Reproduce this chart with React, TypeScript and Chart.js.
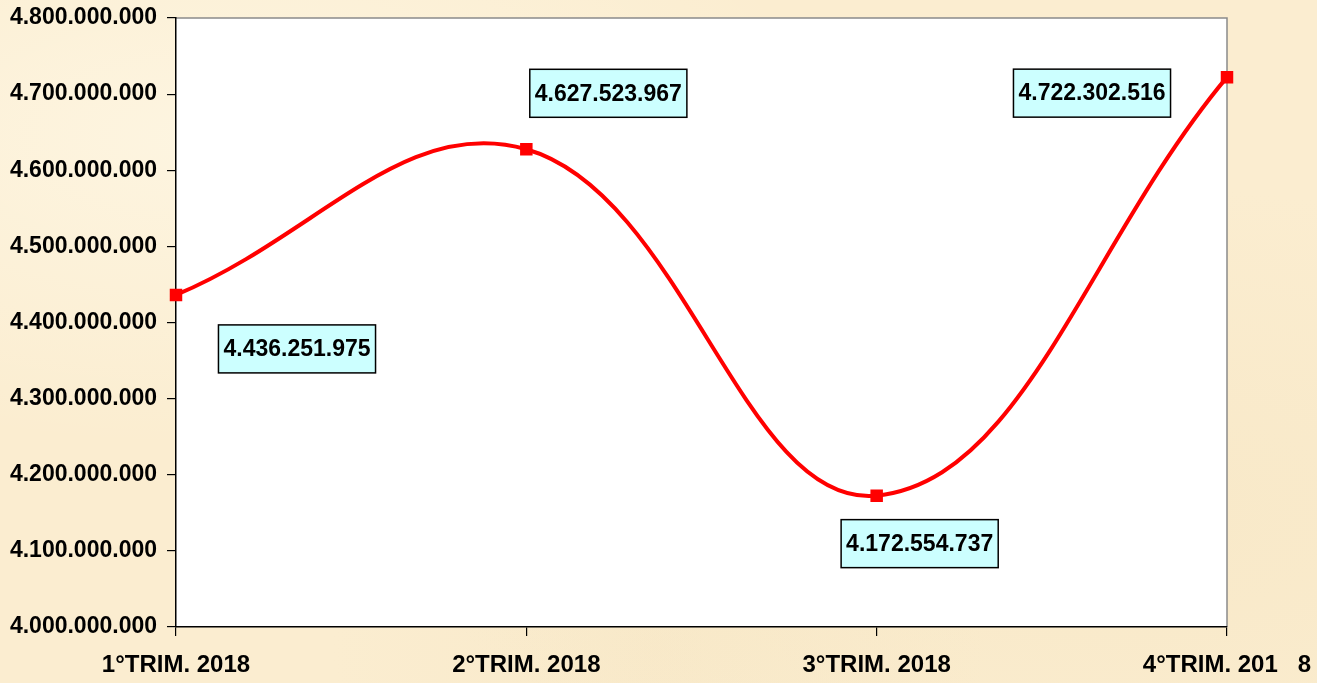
import React, { useEffect, useRef } from "react";
import { Chart, registerables } from "chart.js";

Chart.register(...registerables);

const categories = ["1°TRIM. 2018", "2°TRIM. 2018", "3°TRIM. 2018", "4°TRIM. 201   8"];
const values = [4436251975, 4627523967, 4172554737, 4722302516];
const yMin = 4000000000;
const yMax = 4800000000;
const yStep = 100000000;

// label box offsets from their point (pixels)
const labelOffsets: [number, number][] = [
  [121, 54],
  [82, -56],
  [43, 48],
  [-135, 16],
];

const FONT = '"Liberation Sans", Arial, sans-serif';

function fmt(n: number): string {
  const s = Math.round(n).toString();
  return s.replace(/\B(?=(\d{3})+(?!\d))/g, ".");
}

const plotPlugin = {
  id: "plotDecor",
  beforeDraw(chart: any) {
    const { ctx, chartArea } = chart;
    ctx.save();
    ctx.fillStyle = "#ffffff";
    ctx.fillRect(chartArea.left, chartArea.top, chartArea.right - chartArea.left, chartArea.bottom - chartArea.top);
    ctx.strokeStyle = "#8a8a8a";
    ctx.lineWidth = 1.5;
    ctx.beginPath();
    ctx.moveTo(chartArea.left, chartArea.top);
    ctx.lineTo(chartArea.right, chartArea.top);
    ctx.lineTo(chartArea.right, chartArea.bottom);
    ctx.stroke();
    ctx.restore();
  },
  afterDatasetsDraw(chart: any) {
    const { ctx } = chart;
    const meta = chart.getDatasetMeta(0);
    ctx.save();
    ctx.font = `bold 23px ${FONT}`;
    ctx.textAlign = "center";
    ctx.textBaseline = "middle";
    meta.data.forEach((pt: any, i: number) => {
      const text = fmt(values[i]);
      const cx = pt.x + labelOffsets[i][0];
      const cy = pt.y + labelOffsets[i][1];
      const w = ctx.measureText(text).width + 10;
      const h = 48;
      ctx.fillStyle = "#ccffff";
      ctx.fillRect(cx - w / 2, cy - h / 2, w, h);
      ctx.strokeStyle = "#000000";
      ctx.lineWidth = 1.5;
      ctx.strokeRect(cx - w / 2, cy - h / 2, w, h);
      ctx.fillStyle = "#000000";
      ctx.fillText(text, cx, cy + 1);
    });
    ctx.restore();
  },
};

export default function App() {
  const ref = useRef<HTMLCanvasElement>(null);

  useEffect(() => {
    if (!ref.current) return;
    const chart = new Chart(ref.current, {
      type: "line",
      data: {
        labels: categories,
        datasets: [
          {
            data: values,
            borderColor: "#ff0000",
            backgroundColor: "#ff0000",
            borderWidth: 4,
            tension: 0.4,
            pointStyle: "rect",
            pointRadius: 6,
            pointBackgroundColor: "#ff0000",
            pointBorderColor: "#ff0000",
            fill: false,
          },
        ],
      },
      options: {
        animation: false,
        responsive: false,
        maintainAspectRatio: false,
        layout: { padding: { top: 18, right: 90, left: 0, bottom: 0 } },
        plugins: { legend: { display: false }, tooltip: { enabled: false } },
        scales: {
          x: {
            offset: false,
            grid: { drawOnChartArea: false, drawTicks: true, tickLength: 9, color: "#000000", lineWidth: 1.2 },
            border: { color: "#000000", width: 1.5 },
            ticks: {
              color: "#000000",
              font: { family: FONT, size: 24, weight: "bold" },
              maxRotation: 0,
              autoSkip: false,
              padding: 15,
            },
            afterFit(scale: any) {
              scale.height = 56;
              scale.paddingLeft = 0;
              scale.paddingRight = 0;
            },
          },
          y: {
            min: yMin,
            max: yMax,
            grid: { drawOnChartArea: false, drawTicks: true, tickLength: 9, color: "#000000", lineWidth: 1.2 },
            border: { color: "#000000", width: 1.5 },
            ticks: {
              stepSize: yStep,
              color: "#000000",
              font: { family: FONT, size: 23, weight: "bold" },
              padding: 10,
              callback: (v: any) => fmt(Number(v)),
            },
            afterFit(scale: any) {
              scale.width = 176;
              scale.paddingTop = 0;
              scale.paddingBottom = 0;
            },
          },
        },
      },
      plugins: [plotPlugin],
    });
    return () => chart.destroy();
  }, []);

  return (
    <div
      style={{
        position: "fixed",
        left: 0,
        top: 0,
        width: 1317,
        height: 683,
        background:
          "radial-gradient(ellipse at 15% 20%, rgba(255,250,235,0.6), rgba(255,250,235,0) 40%), radial-gradient(ellipse at 85% 75%, rgba(245,228,192,0.5), rgba(245,228,192,0) 45%), radial-gradient(ellipse at 50% 95%, rgba(246,230,196,0.5), rgba(246,230,196,0) 35%), #fbedd0",
      }}
    >
      <canvas ref={ref} width={1317} height={683} style={{ display: "block" }} />
    </div>
  );
}
